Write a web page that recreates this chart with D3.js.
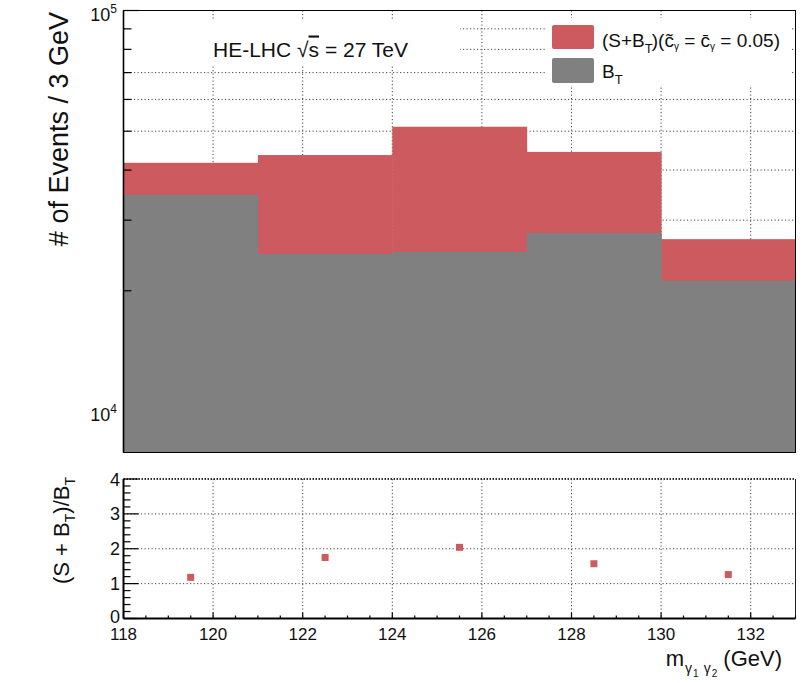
<!DOCTYPE html>
<html>
<head>
<meta charset="utf-8">
<script src="https://cdn.jsdelivr.net/npm/d3@7/dist/d3.min.js"></script>
<style>
  html, body { margin: 0; padding: 0; background: #fff; }
  svg { display: block; font-family: "Liberation Sans", Arial, Helvetica, sans-serif; }
</style>
</head>
<body>
<svg id="chart" width="804" height="683"></svg>
<script>
// ---------- data ----------
const binLow = [118, 121, 124, 127, 130];
const binWidth = 3;
const sbValues = [41700, 43600, 51300, 44400, 26900];   // (S+B_T)
const bValues  = [34700, 24700, 25000, 27900, 21200];   // B_T
const ratioValues = [1.18, 1.75, 2.04, 1.57, 1.26];     // (S+B_T)/B_T
const xTicks = [118, 120, 122, 124, 126, 128, 130, 132];
const yTopMinor = [20000, 30000, 40000, 50000, 60000, 70000, 80000, 90000];
const yBottomTicks = [0, 1, 2, 3, 4];

// ---------- styles ----------
const RED = "#cc5a5f";
const GREY = "#808080";
const GRID = { stroke: "#444", "stroke-width": 1, "stroke-dasharray": "1.2,2.3" };

const svg = d3.select("#chart");

const x = d3.scaleLinear().domain([118, 133]).range([123.5, 795.5]);
const yTop = d3.scaleLog().domain([7900, 100000]).range([452.5, 10.5]);
const yBot = d3.scaleLinear().domain([0, 4]).range([618.5, 479]);

function applyGrid(sel) {
  Object.entries(GRID).forEach(([k, v]) => sel.attr(k, v));
  return sel;
}

// ================= TOP PANEL =================
const topG = svg.append("g");
// grid
applyGrid(topG.selectAll("line.vg").data(xTicks.slice(1)).join("line")
  .attr("x1", d => x(d)).attr("x2", d => x(d))
  .attr("y1", yTop.range()[1]).attr("y2", yTop.range()[0]));
applyGrid(topG.selectAll("line.hg").data(yTopMinor).join("line")
  .attr("x1", x.range()[0]).attr("x2", x.range()[1])
  .attr("y1", d => yTop(d)).attr("y2", d => yTop(d)));

// white boxes behind text and legend
topG.append("rect").attr("x", 125).attr("y", 20).attr("width", 335).attr("height", 46).attr("fill", "#fff");
topG.append("rect").attr("x", 547).attr("y", 18).attr("width", 243).attr("height", 67).attr("fill", "#fff");

// histograms
const bins = binLow.map((lo, i) => ({ lo, hi: lo + binWidth, sb: sbValues[i], b: bValues[i] }));
topG.selectAll("rect.sb").data(bins).join("rect")
  .attr("x", d => x(d.lo)).attr("width", d => x(d.hi) - x(d.lo) + 0.5)
  .attr("y", d => yTop(d.sb)).attr("height", d => yTop.range()[0] - yTop(d.sb))
  .attr("fill", RED);
topG.selectAll("rect.b").data(bins).join("rect")
  .attr("x", d => x(d.lo)).attr("width", d => x(d.hi) - x(d.lo) + 0.5)
  .attr("y", d => yTop(d.b)).attr("height", d => yTop.range()[0] - yTop(d.b))
  .attr("fill", GREY);

// frame
topG.append("rect").attr("x", x.range()[0]).attr("y", yTop.range()[1])
  .attr("width", x.range()[1] - x.range()[0]).attr("height", yTop.range()[0] - yTop.range()[1])
  .attr("fill", "none").attr("stroke", "#000").attr("stroke-width", 1);
topG.append("line").attr("x1", x.range()[0]).attr("x2", x.range()[0])
  .attr("y1", yTop.range()[1]).attr("y2", yTop.range()[0]).attr("stroke", "#000").attr("stroke-width", 1.6);

// y ticks
topG.selectAll("line.ymin").data(yTopMinor).join("line")
  .attr("x1", x.range()[0]).attr("x2", x.range()[0] + 8)
  .attr("y1", d => yTop(d)).attr("y2", d => yTop(d)).attr("stroke", "#000").attr("stroke-width", 1.2);
topG.append("line").attr("x1", x.range()[0]).attr("x2", x.range()[0] + 15)
  .attr("y1", yTop(100000)).attr("y2", yTop(100000)).attr("stroke", "#000").attr("stroke-width", 1.2);

// y tick labels (10^5, 10^4)
[[100000, "5"], [10000, "4"]].forEach(([v, e]) => {
  const t = topG.append("text").attr("x", 117).attr("y", yTop(v) + 10)
    .attr("text-anchor", "end").attr("font-size", 18).attr("fill", "#111");
  t.append("tspan").text("10");
  t.append("tspan").attr("font-size", 12).attr("dy", -8).text(e);
});

// y title
svg.append("text").attr("transform", "translate(68,12) rotate(-90)")
  .attr("text-anchor", "end").attr("font-size", 27).attr("fill", "#111")
  .text("# of Events / 3 GeV");

// HE-LHC label
const he = svg.append("text").attr("x", 213).attr("y", 56.5).attr("font-size", 21).attr("fill", "#111");
he.append("tspan").text("HE-LHC ");
he.append("tspan").text("\u221A");
he.append("tspan").style("text-decoration", "overline").text("s");
he.append("tspan").text(" = 27 TeV");

// legend
const lg = svg.append("g");
lg.append("rect").attr("x", 552).attr("y", 25).attr("width", 42).attr("height", 24).attr("rx", 2).attr("fill", RED);
lg.append("rect").attr("x", 552).attr("y", 58).attr("width", 42).attr("height", 25).attr("rx", 2).attr("fill", GREY);
const l1 = lg.append("text").attr("x", 602).attr("y", 47).attr("font-size", 19).attr("fill", "#111");
l1.append("tspan").text("(S+B");
l1.append("tspan").attr("font-size", 13).attr("dy", 6).text("T");
l1.append("tspan").attr("dy", -6).attr("dx", -1).text(")(c\u0303");
l1.append("tspan").attr("font-size", 10).attr("dy", 3).text("\u03B3");
l1.append("tspan").attr("dy", -3).text(" = c\u0304");
l1.append("tspan").attr("font-size", 10).attr("dy", 3).text("\u03B3");
l1.append("tspan").attr("dy", -3).text(" = 0.05)");
const l2 = lg.append("text").attr("x", 602).attr("y", 78).attr("font-size", 19).attr("fill", "#111");
l2.append("tspan").text("B");
l2.append("tspan").attr("font-size", 13).attr("dy", 6).text("T");

// ================= BOTTOM PANEL =================
const bot = svg.append("g");
applyGrid(bot.selectAll("line.vg").data(xTicks.slice(1)).join("line")
  .attr("x1", d => x(d)).attr("x2", d => x(d))
  .attr("y1", yBot.range()[1]).attr("y2", yBot.range()[0]));
applyGrid(bot.selectAll("line.hg").data([1, 2, 3]).join("line")
  .attr("x1", x.range()[0]).attr("x2", x.range()[1])
  .attr("y1", d => yBot(d)).attr("y2", d => yBot(d)));
// top edge (dotted, darker)
bot.append("line").attr("x1", x.range()[0]).attr("x2", x.range()[1])
  .attr("y1", yBot(4)).attr("y2", yBot(4))
  .attr("stroke", "#333").attr("stroke-width", 2).attr("stroke-dasharray", "1.5,1.5");
// right edge
bot.append("line").attr("x1", x.range()[1]).attr("x2", x.range()[1])
  .attr("y1", yBot(4)).attr("y2", yBot(0)).attr("stroke", "#222").attr("stroke-width", 1);

// points
bot.selectAll("rect.pt").data(ratioValues).join("rect")
  .attr("x", (d, i) => x(binLow[i] + binWidth / 2) - 3.5)
  .attr("y", d => yBot(d) - 3.5)
  .attr("width", 7).attr("height", 7).attr("fill", RED);

// axes lines
bot.append("line").attr("x1", x.range()[0]).attr("x2", x.range()[0])
  .attr("y1", yBot(4)).attr("y2", yBot(0)).attr("stroke", "#000").attr("stroke-width", 2);
bot.append("line").attr("x1", x.range()[0]).attr("x2", x.range()[1])
  .attr("y1", yBot(0)).attr("y2", yBot(0)).attr("stroke", "#000").attr("stroke-width", 2);

// y ticks
const yMinor = d3.range(0, 4.0001, 0.2);
bot.selectAll("line.ymn").data(yMinor).join("line")
  .attr("x1", x.range()[0]).attr("x2", d => x.range()[0] + (Math.abs(d - Math.round(d)) < 1e-6 ? 15 : 7))
  .attr("y1", d => yBot(d)).attr("y2", d => yBot(d)).attr("stroke", "#000").attr("stroke-width", 1.2);
bot.selectAll("text.yl").data(yBottomTicks).join("text")
  .attr("x", 120).attr("y", d => yBot(d) + (d === 0 ? 4 : 6.5)).attr("text-anchor", "end")
  .attr("font-size", 18).attr("fill", "#111").text(d => d);

// x ticks
const xMinor = d3.range(118, 133.001, 0.5);
bot.selectAll("line.xmn").data(xMinor).join("line")
  .attr("x1", d => x(d)).attr("x2", d => x(d))
  .attr("y1", yBot(0)).attr("y2", d => yBot(0) - (d % 2 === 0 ? 6 : 3))
  .attr("stroke", "#000").attr("stroke-width", 1.2);
bot.selectAll("text.xl").data(xTicks).join("text")
  .attr("x", d => x(d)).attr("y", 640).attr("text-anchor", "middle")
  .attr("font-size", 17).attr("fill", "#111").text(d => d);

// x title
const xt = svg.append("text").attr("x", 782).attr("y", 666).attr("text-anchor", "end")
  .attr("font-size", 22).attr("fill", "#111");
xt.append("tspan").text("m");
xt.append("tspan").attr("font-size", 14).attr("dy", 7).attr("dx", 1).text("\u03B3");
xt.append("tspan").attr("font-size", 10).attr("dy", 4).attr("dx", 1).text("1");
xt.append("tspan").attr("font-size", 14).attr("dy", -4).attr("dx", 5).text("\u03B3");
xt.append("tspan").attr("font-size", 10).attr("dy", 4).attr("dx", 1).text("2");
xt.append("tspan").attr("dy", -11).text(" (GeV)");

// bottom y title
const yt = svg.append("text").attr("transform", "translate(69,477) rotate(-90)")
  .attr("text-anchor", "end").attr("font-size", 22).attr("fill", "#111");
yt.append("tspan").text("(S + B");
yt.append("tspan").attr("font-size", 14).attr("dy", 6).text("T");
yt.append("tspan").attr("dy", -6).text(")/B");
yt.append("tspan").attr("font-size", 14).attr("dy", 6).text("T");
</script>
</body>
</html>
